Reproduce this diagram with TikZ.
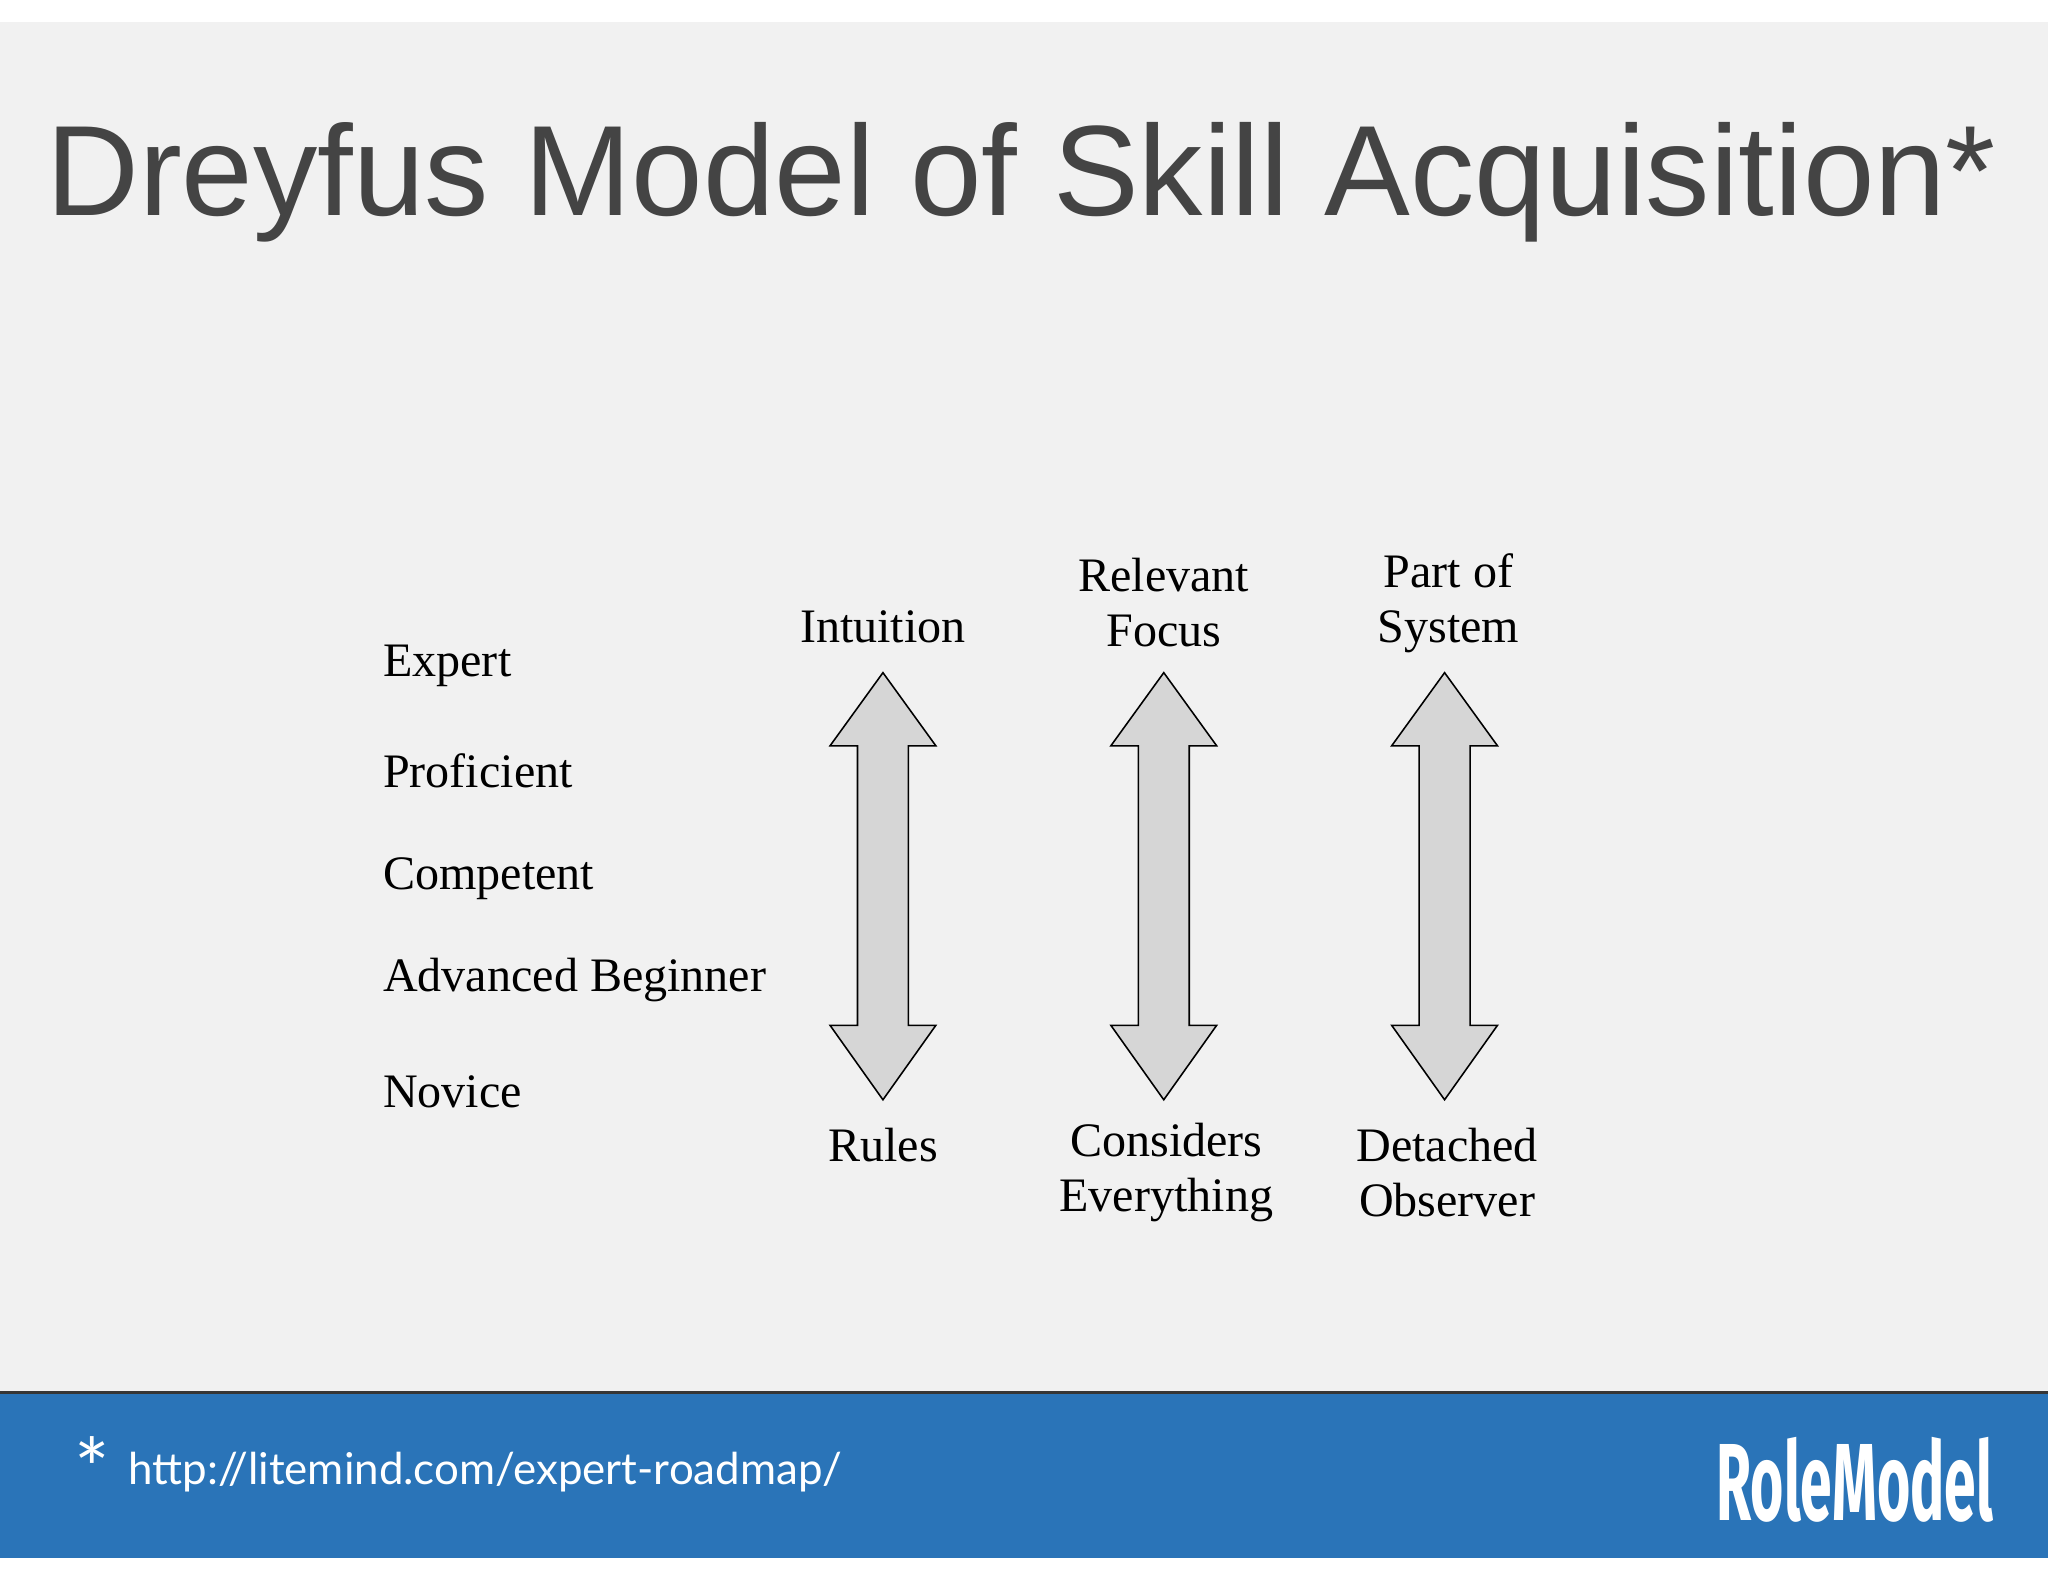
\documentclass[tikz,border=0pt]{standalone}
\usepackage{fontspec}
\setmainfont{Liberation Serif}
\newfontfamily\titlefont{Liberation Sans}
\newfontfamily\urlfont{Lato}
\newfontfamily\logofont{Fira Sans}
\definecolor{bg}{HTML}{F1F1F1}
\definecolor{band}{HTML}{2A74B8}
\definecolor{ttl}{HTML}{444444}
\definecolor{arrowfill}{HTML}{D6D6D6}
\tikzset{
  lvl/.style={anchor=west,font=\fontsize{18.4}{21}\selectfont,inner sep=0pt},
  axislabel/.style={align=center,font=\fontsize{18.4}{21}\selectfont,inner sep=0pt},
}
\newcommand{\dblarrow}[2]{%
  \draw[fill=arrowfill,draw=black,line width=0.6pt]
   (#1,515) -- (#1+40.5,571) -- (#1+19.5,571) -- (#1+19.5,785) -- (#1+40.5,785)
   -- (#1,842) -- (#1-40.5,785) -- (#1-19.5,785) -- (#1-19.5,571) -- (#1-40.5,571) -- cycle;
  \coordinate (#2) at (#1,678);}
\begin{document}
\begin{tikzpicture}[x=0.5pt,y=-0.5pt]
\useasboundingbox (0,0) rectangle (1568,1211);
\fill[white] (0,0) rectangle (1568,1211);
\fill[bg] (0,17) rectangle (1568,1066);
\fill[band] (0,1066) rectangle (1568,1193);
\draw[color=ttl!80!black,line width=1.2pt] (0,1066) -- (1568,1066);
\node[anchor=base west,inner sep=0pt,text=ttl,font=\titlefont\fontsize{49.2}{53}\selectfont] (title) at (35,165) {Dreyfus Model of Skill Acquisition*};
\node[lvl] (expert) at (293,510) {Expert};
\node[lvl] (prof) at (293,590) {Proficient};
\node[lvl] (comp) at (293,673) {Competent};
\node[lvl] (adv) at (293,750) {Advanced Beginner};
\node[lvl] (nov) at (293,836) {Novice};
\dblarrow{676}{a1}
\dblarrow{891}{a2}
\dblarrow{1106}{a3}
\node[axislabel] (t1) at (676,480) {Intuition};
\node[axislabel] (t2) at (891,461) {Relevant\\Focus};
\node[axislabel] (t3) at (1109,462) {Part of\\System};
\node[axislabel] (b1) at (676,877) {Rules};
\node[axislabel] (b2) at (893,898) {Considers\\Everything};
\node[axislabel] (b3) at (1108,898) {Detached\\Observer};
\node[anchor=center,text=white,font=\urlfont\fontsize{32}{32}\selectfont,inner sep=0pt] (star) at (71,1124) {*};
\node[anchor=west,text=white,font=\urlfont\fontsize{16.8}{18}\selectfont,inner sep=0pt] (url) at (98,1127) {http://litemind.com/expert-roadmap/};
\node[anchor=center,text=white,font=\logofont\bfseries\fontsize{42}{42}\selectfont,inner sep=0pt,xscale=0.52] (logo) at (1420,1133) {RoleModel};
\end{tikzpicture}
\end{document}
